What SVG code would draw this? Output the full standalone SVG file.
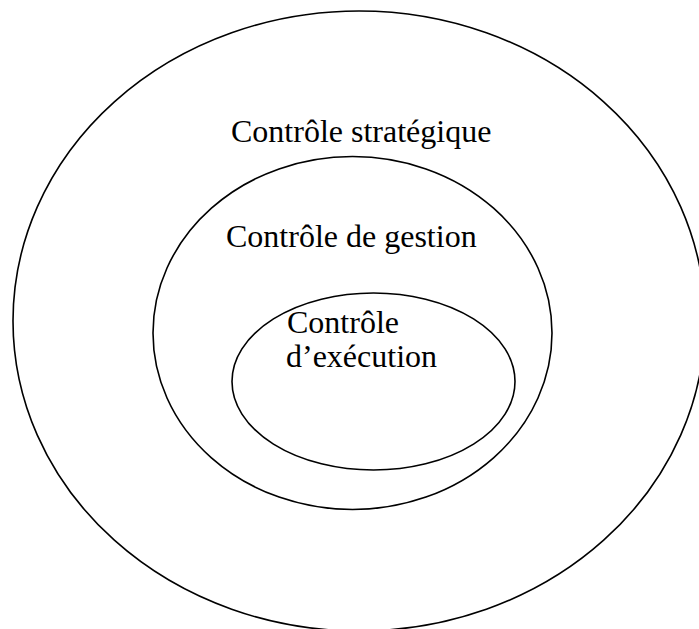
<svg xmlns="http://www.w3.org/2000/svg" width="699" height="629" viewBox="0 0 699 629">
  <style>
    .ring { fill: none; stroke: #000; stroke-width: 1.6; }
    .label { font-family: 'Liberation Serif', 'Times New Roman', Tinos, 'DejaVu Serif', serif; font-size: 32px; fill: #000; }
  </style>
  <rect width="699" height="629" fill="#fff"/>
  <g id="strategique">
    <ellipse class="ring" cx="359" cy="321" rx="346" ry="310"/>
    <text class="label" x="231" y="142">Contrôle stratégique</text>
  </g>
  <g id="gestion">
    <ellipse class="ring" cx="352.5" cy="333" rx="199.5" ry="176.5"/>
    <text class="label" x="226" y="247">Contrôle de gestion</text>
  </g>
  <g id="execution">
    <ellipse class="ring" cx="373.5" cy="381.5" rx="141.5" ry="88.5"/>
    <text class="label" x="287" y="333">Contrôle</text>
    <text class="label" x="286" y="367">d’exécution</text>
  </g>
  <g id="connectors"/>
</svg>
